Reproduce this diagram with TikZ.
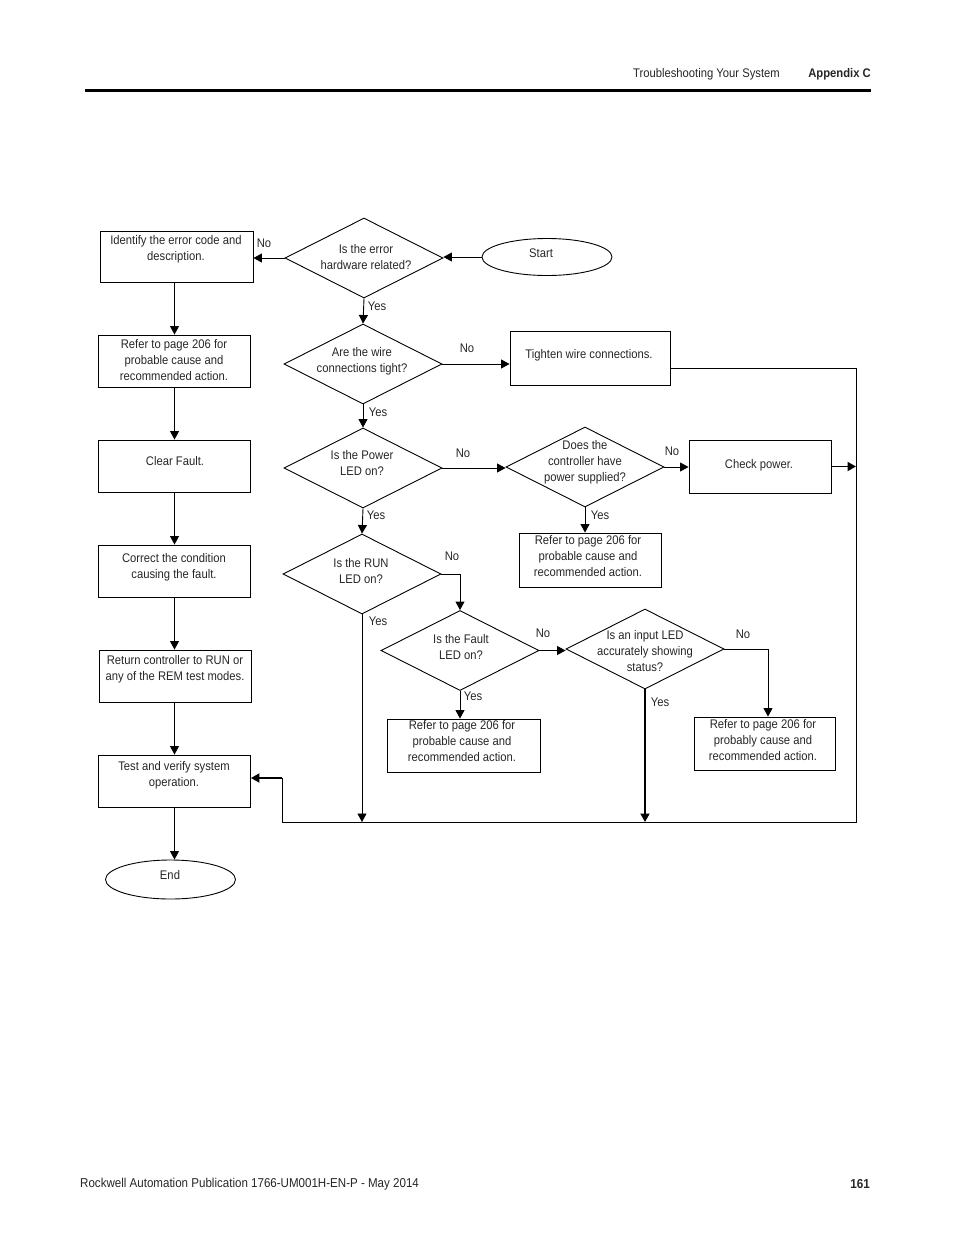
\documentclass[tikz,border=0pt]{standalone}
\usepackage{fontspec}
\setmainfont{Liberation Sans}[FakeStretch=0.9]
\usetikzlibrary{arrows.meta,shapes.geometric}
\begin{document}
\begin{tikzpicture}[x=1pt,y=-1pt,
  every node/.style={font=\fontsize{12.5}{16}\selectfont, text=black!85},
  txt/.style={align=center, inner sep=0pt},
  box/.style={draw=black, line width=0.9pt, inner sep=0pt},
  dia/.style={draw=black, diamond, aspect=2, inner sep=0pt, line width=0.9pt, minimum width=158pt, minimum height=80pt},
  ell/.style={draw=black, ellipse, inner sep=0pt, line width=0.9pt},
  arr/.style={line width=0.9pt, -{Triangle[length=8.5pt,width=9pt]}},
  ln/.style={line width=0.9pt},
  thk/.style={line width=1.8pt}]
\useasboundingbox (0,0) rectangle (954,1235);

% header and footer
\node[anchor=east, inner sep=0pt] (hd1) at (780,74) {Troubleshooting Your System};
\node[anchor=east, inner sep=0pt, font=\fontsize{12.5}{16}\selectfont\bfseries] (hd2) at (871,74) {Appendix C};
\coordinate (rl) at (85,90);
\coordinate (rr) at (871,90);
\draw[line width=3pt] (rl) -- (rr);
\node[anchor=west, inner sep=0pt, font=\fontsize{12.85}{16}\selectfont] (ft1) at (80,1184) {Rockwell Automation Publication 1766-UM001H-EN-P - May 2014};
\node[anchor=east, inner sep=0pt, font=\fontsize{13}{16}\selectfont\bfseries] (ft2) at (870,1184) {161};

% left column
\node[box, minimum width=153pt, minimum height=51pt] (idb) at (176.5,256.5) {};
\node[txt] (idt) at (176,249) {Identify the error code and\\description.};
\node[box, minimum width=152pt, minimum height=52pt] (ref1) at (174.5,361) {};
\node[txt] (ref1t) at (174,360) {Refer to page 206 for\\probable cause and\\recommended action.};
\node[box, minimum width=152pt, minimum height=52pt] (clr) at (174.5,466) {};
\node[txt] (clrt) at (175,461) {Clear Fault.};
\node[box, minimum width=152pt, minimum height=52pt] (cor) at (174.5,571) {};
\node[txt] (cort) at (174,567) {Correct the condition\\causing the fault.};
\node[box, minimum width=152pt, minimum height=52pt] (ret) at (175,676) {};
\node[txt] (rett) at (175,669) {Return controller to RUN or\\any of the REM test modes.};
\node[box, minimum width=152pt, minimum height=52pt] (tst) at (174.5,781) {};
\node[txt] (tstt) at (174,775.5) {Test and verify system\\operation.};
\node[ell, minimum width=130pt, minimum height=39pt] (end) at (170.5,879.5) {};
\node[txt] (endt) at (170,875) {End};

\draw[arr] (ref1.north |- idb.south) -- (ref1.north);
\draw[arr] (ref1.south) -- (clr.north);
\draw[arr] (clr.south) -- (cor.north);
\draw[arr] (cor.south) -- (cor.south |- ret.north);
\draw[arr] (cor.south |- ret.south) -- (cor.south |- tst.north);
\draw[arr] (cor.south |- tst.south) -- (cor.south |- end.north);

% start and decisions
\node[ell, minimum width=130pt, minimum height=37pt] (start) at (547,257) {};
\node[txt] (startt) at (541,253) {Start};
\node[dia] (d1) at (364,258) {};
\node[txt] (d1t) at (366,257) {Is the error\\hardware related?};
\draw[arr] (start.west) -- (start.west -| d1.east);
\draw[arr] (d1.west) -- (d1.west -| idb.east);
\node (n1) at (264,243) {No};

\node[dia] (d2) at (363,364) {};
\node[txt] (d2t) at (362,361) {Are the wire\\connections tight?};
\draw[arr] (d1.south) -- (d2.north);
\node (y1) at (377,306) {Yes};
\node[box, minimum width=160pt, minimum height=54pt] (tgt) at (590,358) {};
\node[txt] (tgtt) at (589,355) {Tighten wire connections.};
\draw[arr] (d2.east) -- (d2.east -| tgt.west);
\node (n2) at (467,348) {No};

\node[dia] (d3) at (363,468) {};
\node[txt] (d3t) at (362,463) {Is the Power\\LED on?};
\draw[arr] (d2.south) -- (d3.north);
\node (y2) at (378,412) {Yes};

\node[dia] (d4) at (585,467) {};
\node[txt] (d4t) at (585,462.5) {Does the\\controller have\\power supplied?};
\draw[arr] (d3.east) -- (d3.east -| d4.west);
\node (n3) at (463,453) {No};

\node[box, minimum width=142pt, minimum height=53pt] (cp) at (760,466.5) {};
\node[txt] (cpt) at (759,465) {Check power.};
\draw[arr] (d4.east) -- (d4.east -| cp.west);
\node (n4) at (672,451) {No};

\node[box, minimum width=142pt, minimum height=54pt] (ref2) at (590,560) {};
\node[txt] (ref2t) at (588,556.5) {Refer to page 206 for\\probable cause and\\recommended action.};
\draw[arr] (d4.south) -- (d4.south |- ref2.north);
\node (y4) at (600,515) {Yes};

\node[dia] (d5) at (362,574) {};
\node[txt] (d5t) at (361,571.5) {Is the RUN\\LED on?};
\draw[arr] (d3.south) -- (d5.north);
\node (y3) at (376,515) {Yes};

\node[dia] (d6) at (460,650.5) {};
\node[txt] (d6t) at (461,647) {Is the Fault\\LED on?};
\draw[arr] (d5.east) -| (d6.north);
\node (n5) at (452,556) {No};

\node[dia] (d7) at (645,649) {};
\node[txt] (d7t) at (645,651.5) {Is an input LED\\accurately showing\\status?};
\draw[arr] (d6.east) -- (d6.east -| d7.west);
\node (n6) at (543,633) {No};

\node[box, minimum width=153pt, minimum height=53pt] (ref3) at (463.5,745.5) {};
\node[txt] (ref3t) at (462,741.5) {Refer to page 206 for\\probable cause and\\recommended action.};
\draw[arr] (d6.south) -- (d6.south |- ref3.north);
\node (y6) at (473,696) {Yes};

\node[box, minimum width=141pt, minimum height=53pt] (ref4) at (764.5,743.5) {};
\node[txt] (ref4t) at (763,740.5) {Refer to page 206 for\\probably cause and\\recommended action.};
\draw[arr] (d7.east) -| ([xshift=3.5pt]ref4.north);
\node (n7) at (743,634) {No};

% return bus
\coordinate (rc) at (856,822);
\coordinate (lc) at (282,822);
\coordinate (lt) at (282,778);
\draw[ln] ([yshift=-10pt]tgt.east) -| (rc) -- (lc) -- (lt);
\draw[thk, -{Triangle[length=8.5pt,width=9pt]}] (lt) -- (lt -| tst.east);
\draw[thk, -{Triangle[length=8.5pt,width=9pt]}] (cp.east) -- (cp.east -| rc);
\draw[arr] (d5.south) -- (d5.south |- rc);
\node (y5) at (378,621) {Yes};
\draw[thk, -{Triangle[length=8.5pt,width=9pt]}] (d7.south) -- (d7.south |- rc);
\node (y7) at (660,702) {Yes};
\end{tikzpicture}
\end{document}
